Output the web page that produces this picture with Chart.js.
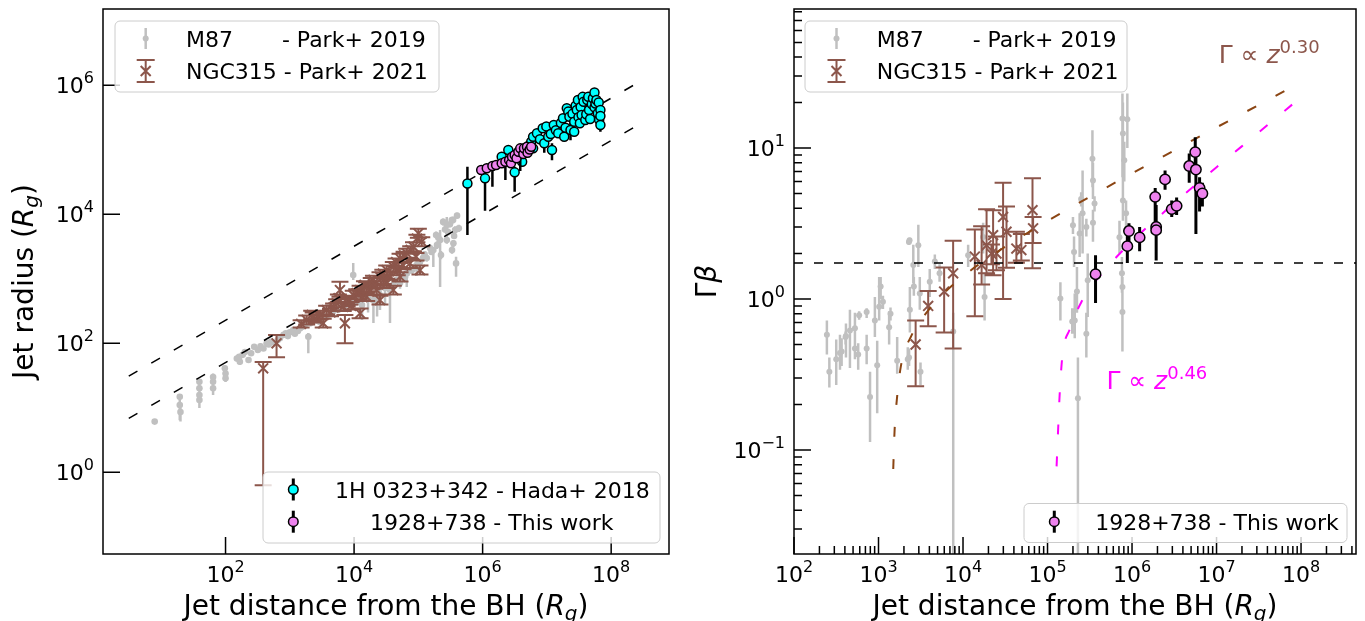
<!DOCTYPE html>
<html>
<head>
<meta charset="utf-8">
<title>Jet radius and Lorentz factor vs distance</title>
<script src="https://cdn.jsdelivr.net/npm/chart.js@4.4.1/dist/chart.umd.min.js"></script>
<style>
  html, body { margin: 0; padding: 0; background: #fff; }
  #wrap { position: relative; width: 1365px; height: 621px; overflow: hidden; }
  #wrap canvas { position: absolute; top: 0; }
</style>
</head>
<body>
<div id="wrap">
  <canvas id="radiusChart" width="680" height="621" style="left:0"></canvas>
  <canvas id="gammaChart" width="675" height="621" style="left:690px"></canvas>
</div>
<script>
/* ---------- data: [x, y, yLow, yHigh] ---------- */

// left panel: jet radius (Rg) vs distance (Rg)
const m87Radius = [
  [7.9, 6.1, 5.6, 6.6], [19.4, 14.8, 11, 16], [19.4, 11, 6.4, 13], [19.9, 8.6, 6.1, 10],
  [39.2, 25.3, 22, 28], [39.2, 20, 17, 23], [39.2, 15.7, 9.9, 18], [39.2, 13.2, 10, 15],
  [64, 30, 27, 34], [64, 25.3, 22, 28], [64, 20, 15.7, 23], [97.5, 40.8, 36, 45],
  [100, 34, 30, 38], [100, 28.6, 25, 32], [150, 58, 52, 64], [163, 61.8, 56, 68], [167, 51.7, 46, 57],
  [185, 66, 60, 72], [200, 73, 66, 80], [228, 55, 50, 61], [250, 70, 64, 77], [279, 88, 80, 96],
  [318, 78.5, 71, 86], [350, 90, 82, 99], [389, 83, 76, 91], [436, 99.6, 91, 109], [470, 96, 88, 105],
  [508, 105, 96, 115], [586, 101, 92, 111], [650, 112, 102, 123], [701, 120, 110, 131], [800, 135, 124, 147],
  [867, 142, 130, 155], [933, 129, 118, 141], [1000, 148, 135, 162], [1130, 160, 146, 175], [1200, 140, 128, 153],
  [1336, 155, 141, 170], [1450, 170, 155, 186], [1580, 180, 164, 197], [1700, 190, 173, 208], [1940, 126, 70, 144],
  [2100, 205, 187, 225], [2310, 229, 209, 251], [2500, 240, 219, 263], [2740, 221, 200, 243], [2940, 213, 190, 238],
  [3300, 250, 228, 274], [3740, 264, 240, 290], [4220, 284, 255, 316], [4600, 300, 270, 333], [5070, 327, 295, 362],
  [5610, 327, 295, 362], [6030, 352, 318, 390], [6600, 370, 333, 411], [7200, 391, 350, 437], [8100, 420, 378, 466],
  [9700, 1140, 955, 1750], [10300, 467, 420, 520], [11000, 430, 387, 477], [12400, 467, 420, 520], [13300, 391, 230, 430],
  [14800, 539, 480, 600], [16500, 520, 300, 580], [17500, 600, 540, 666], [20000, 467, 206, 520], [22800, 467, 260, 520],
  [24000, 640, 576, 710], [25300, 559, 327, 620], [28200, 798, 700, 900], [30300, 718, 400, 800], [33000, 760, 684, 844],
  [36200, 668, 206, 740], [40400, 798, 700, 900], [43000, 900, 810, 1000], [46100, 955, 850, 1070], [51900, 858, 700, 960],
  [57800, 1100, 980, 1230], [62000, 1050, 945, 1166], [66000, 1210, 743, 1350], [74000, 1360, 1200, 1540], [79800, 1365, 1200, 1540],
  [87000, 1500, 1350, 1665], [94000, 1630, 1100, 1900], [106000, 1820, 1600, 2050], [118000, 2094, 1850, 2370], [125000, 2400, 2160, 2664],
  [135000, 2090, 1850, 2370], [152000, 2990, 2650, 3380], [160000, 2600, 2340, 2886], [171000, 2790, 1520, 3100], [189000, 4760, 4200, 5400],
  [195000, 3327, 2900, 3800], [205000, 4300, 3870, 4773], [218000, 3980, 743, 5700], [225000, 2330, 2000, 2700], [243000, 7600, 6700, 8600],
  [260000, 5800, 5220, 6438], [277000, 6800, 3580, 9060], [277000, 3980, 3500, 4500], [290000, 5300, 4700, 6000], [310000, 7000, 6300, 7770],
  [331000, 8100, 7200, 9100], [334000, 2790, 2450, 3200], [347000, 8130, 7200, 9200], [351000, 3540, 3100, 4000], [360000, 4600, 4140, 5106],
  [373000, 5700, 5000, 6500], [386000, 1730, 1070, 2190], [400000, 9500, 8550, 10500], [426000, 6040, 5300, 6900]
];
const ngcRadius = [
  [385, 40.8, 0.63, 51], [622, 99.6, 60.4, 134], [1500, 200, 175, 228], [1830, 229, 195, 270], [2190, 274, 235, 320],
  [2310, 258, 220, 300], [2600, 240, 210, 274], [2940, 274, 235, 320], [3310, 204, 175, 240], [3740, 327, 280, 380],
  [4300, 300, 262, 343], [4800, 360, 315, 412], [5360, 416, 360, 480], [5700, 500, 437, 572], [6030, 668, 526, 898],
  [6790, 368, 315, 430], [7200, 204, 99.6, 274], [7800, 430, 376, 492], [8600, 467, 400, 545], [9000, 380, 332, 434],
  [9700, 559, 480, 650], [11000, 600, 525, 686], [12400, 668, 570, 780], [12400, 291, 245, 345], [13500, 520, 455, 595],
  [14500, 800, 700, 915], [15700, 751, 640, 880], [15700, 526, 450, 615], [17500, 640, 560, 732], [18500, 900, 787, 1030],
  [20000, 955, 820, 1110], [21000, 800, 700, 915], [22500, 668, 570, 780], [25300, 1070, 910, 1260], [25300, 467, 400, 545],
  [28000, 1200, 1050, 1372], [28500, 950, 831, 1086], [32200, 1360, 1160, 1600], [32200, 849, 720, 1000], [36000, 1100, 962, 1258],
  [40800, 1540, 1310, 1810], [40800, 668, 570, 780], [45000, 1800, 1574, 2058], [47000, 1300, 1137, 1487], [51900, 2070, 1760, 2430],
  [51900, 1070, 910, 1260], [58000, 1600, 1400, 1830], [60000, 2300, 2012, 2630], [66000, 2480, 2110, 2920], [74000, 1730, 1470, 2030],
  [76000, 2800, 2450, 3200], [84000, 3130, 2660, 3680], [92000, 2200, 1925, 2516], [95000, 4200, 3674, 4802], [100000, 5060, 4300, 5950],
  [106000, 1360, 1160, 1600], [113000, 3750, 3190, 4410]
];
const hadaRadius = [
  [5.8e5, 3.0e4, 4.76e3, 5.45e4], [1.09e6, 3.6e4, 1.13e4, 4.56e4], [1.98e6, 7.8e4, 6.6e4, 9.2e4], [2.51e6, 9.9e4, 8.5e4, 1.15e5],
  [3.15e6, 4.46e4, 2.23e4, 5.45e4], [4.12e6, 6.5e4, 5.5e4, 7.7e4], [5.2e6, 1.15e5, 1.0e5, 1.32e5], [5.7e6, 1.33e5, 1.15e5, 1.55e5],
  [6.1e6, 1.59e5, 1.37e5, 1.84e5], [6.1e6, 1.05e5, 9.0e4, 1.22e5], [7.0e6, 1.8e5, 1.55e5, 2.08e5], [7.8e6, 1.45e5, 1.26e5, 1.67e5],
  [8.6e6, 2.15e5, 1.85e5, 2.5e5], [9.1e6, 1.26e5, 9.0e4, 1.5e5], [9.8e6, 2.3e5, 2.0e5, 2.65e5], [1.05e7, 1.59e5, 1.37e5, 1.84e5],
  [1.15e7, 1.75e5, 1.52e5, 2.0e5], [1.2e7, 9.9e4, 6.9e4, 1.26e5], [1.28e7, 2.42e5, 2.08e5, 2.8e5], [1.38e7, 2.0e5, 1.74e5, 2.3e5],
  [1.5e7, 1.8e5, 1.55e5, 2.08e5], [1.65e7, 2.6e5, 2.26e5, 3.0e5], [1.78e7, 3.07e5, 2.65e5, 3.55e5], [1.86e7, 1.59e5, 1.37e5, 1.84e5],
  [1.95e7, 2.2e5, 1.9e5, 2.53e5], [2.04e7, 4.39e5, 3.8e5, 5.1e5], [2.15e7, 3.9e5, 3.4e5, 4.5e5], [2.24e7, 3.25e5, 2.8e5, 3.75e5],
  [2.33e7, 2.02e5, 1.4e5, 2.6e5], [2.5e7, 3.6e5, 3.1e5, 4.1e5], [2.66e7, 2.72e5, 2.35e5, 3.15e5], [2.66e7, 1.9e5, 1.64e5, 2.2e5],
  [2.8e7, 4.8e5, 4.2e5, 5.5e5], [2.92e7, 4.13e5, 3.55e5, 4.8e5], [3.04e7, 5.9e5, 5.1e5, 6.8e5], [3.1e7, 3.2e5, 2.8e5, 3.7e5],
  [3.26e7, 2.57e5, 2.2e5, 3.0e5], [3.35e7, 4.6e5, 4.0e5, 5.3e5], [3.47e7, 3.45e5, 2.95e5, 4.0e5], [3.6e7, 6.6e5, 5.7e5, 7.6e5],
  [3.72e7, 5.55e5, 4.8e5, 6.4e5], [3.96e7, 2.89e5, 2.5e5, 3.35e5], [4.1e7, 3.54e5, 3.05e5, 4.1e5], [4.25e7, 5.9e5, 5.1e5, 6.8e5],
  [4.4e7, 6.6e5, 5.7e5, 7.6e5], [4.53e7, 4.13e5, 3.55e5, 4.8e5], [4.7e7, 3.0e5, 2.6e5, 3.45e5], [4.99e7, 5.1e5, 4.4e5, 5.9e5],
  [5.2e7, 6.3e5, 5.5e5, 7.2e5], [5.5e7, 7.7e5, 6.6e5, 8.9e5], [5.5e7, 4.54e5, 3.9e5, 5.25e5], [5.7e7, 5.2e5, 4.5e5, 6.0e5],
  [5.9e7, 5.9e5, 5.1e5, 6.8e5], [6.2e7, 3.67e5, 2.9e5, 4.3e5], [6.4e7, 5.4e5, 4.7e5, 6.2e5], [6.5e7, 2.9e5, 2.5e5, 3.35e5],
  [6.8e7, 4.13e5, 3.55e5, 4.8e5], [6.8e7, 3.33e5, 2.85e5, 3.85e5], [6.8e7, 2.42e5, 1.9e5, 2.8e5]
];
const thisRadius = [
  [9.5e5, 4.85e4, 4.3e4, 5.5e4], [1.16e6, 5.15e4, 4.5e4, 5.9e4], [1.42e6, 5.59e4, 2.67e4, 6.3e4], [1.62e6, 5.8e4, 5.1e4, 6.6e4],
  [1.98e6, 6.15e4, 5.4e4, 7.0e4], [2.26e6, 6.5e4, 3.4e4, 7.4e4], [2.58e6, 6.9e4, 6.0e4, 7.9e4], [2.76e6, 6.15e4, 5.4e4, 7.0e4],
  [2.87e6, 7.8e4, 6.8e4, 8.9e4], [3.15e6, 8.3e4, 7.3e4, 9.4e4], [3.37e6, 7.4e4, 6.5e4, 8.4e4], [3.6e6, 9.3e4, 8.2e4, 1.06e5],
  [3.85e6, 1.05e5, 4.7e4, 1.19e5], [4.3e6, 8.6e4, 7.6e4, 9.8e4], [4.4e6, 1.05e5, 9.2e4, 1.19e5], [4.9e6, 1.11e5, 9.8e4, 1.26e5],
  [5.0e6, 9.0e4, 7.9e4, 1.02e5], [5.4e6, 1.01e5, 8.9e4, 1.15e5], [5.7e6, 1.11e5, 9.8e4, 1.26e5]
];
// the two dashed guide lines (end points)
const guideUpper = [[3.12, 31], [2.93e8, 1.17e6]];
const guideLower = [[3.12, 6.85], [2.93e8, 2.57e5]];

// right panel: Gamma*beta vs distance (Rg)
const m87Gamma = [
  [245, 0.58, 0.43, 0.72], [262, 0.33, 0.26, 0.41], [316, 0.40, 0.27, 0.54], [350, 0.44, 0.34, 0.58],
  [366, 0.45, 0.36, 0.55], [407, 0.56, 0.50, 0.61], [412, 0.57, 0.41, 0.69], [459, 0.62, 0.35, 0.85],
  [526, 0.64, 0.48, 0.81], [526, 0.47, 0.40, 0.55], [575, 0.43, 0.34, 0.51], [590, 0.78, 0.73, 0.83],
  [724, 0.82, 0.75, 0.87], [724, 0.47, 0.37, 0.58], [794, 0.225, 0.113, 0.33], [906, 0.72, 0.56, 1.03],
  [965, 0.365, 0.175, 0.53], [1018, 0.89, 0.72, 1.40], [1060, 1.21, 1.0, 1.40], [1128, 0.96, 0.86, 1.05],
  [1336, 0.65, 0.50, 0.83], [1387, 0.80, 0.72, 0.88], [1663, 0.39, 0.32, 0.56], [2220, 0.40, 0.34, 0.48],
  [2290, 2.39, 2.29, 2.48], [2330, 2.45, 2.35, 2.55], [2350, 0.85, 0.6, 1.2], [2300, 0.41, 0.36, 0.47],
  [2580, 1.68, 1.27, 2.29], [2620, 1.21, 1.05, 1.4], [2960, 2.27, 1.63, 3.1], [3080, 1.09, 0.85, 1.40],
  [3140, 0.33, 0.27, 0.38], [4040, 1.30, 1.03, 1.58], [4640, 1.77, 1.58, 1.97], [5280, 1.48, 1.3, 1.7],
  [7660, 0.61, 0.01, 0.81], [11500, 1.95, 1.63, 2.29], [17300, 2.58, 2.0, 3.2], [18000, 1.03, 0.72, 1.5],
  [1.42e5, 1.01, 0.72, 1.29], [1.96e5, 0.71, 0.59, 0.87], [2.0e5, 3.08, 2.7, 3.5], [2.06e5, 2.05, 1.63, 2.6],
  [2.1e5, 0.72, 0.55, 1.09], [2.23e5, 1.12, 0.81, 1.63], [2.29e5, 0.22, 0.01, 0.41], [2.4e5, 2.72, 1.9, 3.7],
  [2.5e5, 4.6, 4.1, 5.1], [2.6e5, 3.7, 2.0, 7.1], [2.88e5, 0.59, 0.41, 0.81], [2.88e5, 3.0, 2.6, 3.4],
  [2.99e5, 1.33, 0.76, 2.0], [3.4e5, 8.5, 5.5, 13.1], [3.45e5, 6.1, 4.6, 8.0], [3.45e5, 3.2, 2.4, 3.9],
  [3.6e5, 4.3, 3.8, 4.8], [7.1e5, 2.57, 2.0, 3.3], [7.6e5, 1.48, 1.1, 1.9], [7.7e5, 15.7, 6.4, 23],
  [7.7e5, 1.2, 1.0, 1.4], [7.7e5, 0.82, 0.45, 1.1], [7.8e5, 12.5, 7, 20], [7.8e5, 4.5, 3.3, 6.4],
  [8.1e5, 8.3, 6, 11], [8.5e5, 3.7, 3.0, 4.5], [8.8e5, 15.5, 10, 23]
];
const ngcGamma = [
  [2750, 0.50, 0.265, 0.72], [3870, 0.90, 0.66, 1.13], [5980, 1.12, 0.60, 1.62], [7640, 1.48, 0.47, 2.43],
  [13800, 1.91, 0.77, 2.89], [16600, 1.68, 1.25, 3.04], [19000, 2.27, 1.48, 3.93], [21700, 2.0, 1.7, 2.3],
  [22700, 2.65, 1.44, 3.88], [24900, 2.0, 1.55, 2.6], [29800, 3.5, 1.0, 5.9], [32700, 2.79, 1.61, 4.1],
  [42800, 2.16, 1.74, 2.79], [49000, 2.11, 1.8, 2.7], [66400, 3.88, 1.6, 6.3], [67500, 2.94, 2.35, 3.5]
];
const thisGamma = [
  [3.7e5, 1.46, 0.94, 1.95], [8.8e5, 2.24, 1.73, 2.73], [9.2e5, 2.82, 2.21, 3.18], [1.23e6, 2.56, 2.07, 3.0],
  [1.88e6, 4.75, 3.0, 5.43], [1.93e6, 3.0, 1.81, 4.2], [1.93e6, 2.86, 1.8, 3.2], [2.46e6, 6.2, 5.3, 7.1],
  [2.95e6, 3.94, 3.5, 4.5], [3.37e6, 4.14, 3.6, 4.7], [4.75e6, 7.6, 5.9, 9.2], [5.6e6, 9.4, 7.5, 11.8],
  [5.7e6, 7.2, 2.7, 8.7], [6.3e6, 5.45, 3.8, 6.4], [6.8e6, 5.0, 4.1, 5.9]
];
// model curves
const curve030X = [1494, 1550, 1660, 1840, 2460, 3500, 6000, 1.2e4, 3e4, 1e5, 3e5, 1e6, 3e6, 1e7, 3e7, 1e8];
const curve030Y = [0.075, 0.135, 0.225, 0.36, 0.575, 0.78, 1.1, 1.53, 2.18, 3.29, 4.68, 6.8, 9.5, 13.7, 19.0, 27.3];
const curve046X = [1.28e5, 1.33e5, 1.39e5, 1.5e5, 1.83e5, 2.5e5, 4.5e5, 1e6, 3e6, 1e7, 3e7, 1e8];
const curve046Y = [0.078, 0.13, 0.23, 0.42, 0.63, 0.95, 1.5, 2.41, 4.21, 7.46, 12.4, 21.7];
const gammaBetaLevel = 1.73;

// axes
const radXTicks = [1e2, 1e4, 1e6, 1e8];
const radYTicks = [1e0, 1e2, 1e4, 1e6];
const gamXTicks = [1e2, 1e3, 1e4, 1e5, 1e6, 1e7, 1e8];
const gamYTicks = [1e-1, 1e0, 1e1];
const radXRange = [1.24, 7.94e8], radYRange = [0.054, 1.52e7];
const gamXRange = [100, 4.47e8], gamYRange = [0.0205, 83.3];

/* ---------- styling ---------- */
const FONT = "'DejaVu Sans', sans-serif";
const GREY = '#c0c0c0', BROWN = '#8c564b', CYAN = '#00ffff', VIOLET = '#ee82ee';
const SADDLE = '#8b4513', MAGENTA = '#ff00ff';

const pts = rows => rows.map(r => ({ x: r[0], y: r[1], lo: r[2], hi: r[3] }));
const xy = (xs, ys) => xs.map((x, i) => ({ x, y: ys[i] }));
const pairs = rows => rows.map(r => ({ x: r[0], y: r[1] }));

// error bars drawn just before each dataset's markers (like matplotlib errorbar)
const errBars = {
  id: 'errBars',
  beforeDatasetDraw(chart, args) {
    const ds = chart.data.datasets[args.index];
    const e = ds.err;
    if (!e) return;
    const ctx = chart.ctx, a = chart.chartArea, xs = chart.scales.x, ys = chart.scales.y;
    ctx.save();
    ctx.beginPath();
    ctx.rect(a.left, a.top, a.right - a.left, a.bottom - a.top);
    ctx.clip();
    ctx.strokeStyle = e.color;
    ctx.lineWidth = e.width;
    ctx.beginPath();
    ds.data.forEach(p => {
      const px = xs.getPixelForValue(p.x);
      const t = ys.getPixelForValue(p.hi), b = ys.getPixelForValue(p.lo);
      ctx.moveTo(px, t); ctx.lineTo(px, b);
      if (e.cap) {
        ctx.moveTo(px - e.cap, t); ctx.lineTo(px + e.cap, t);
        ctx.moveTo(px - e.cap, b); ctx.lineTo(px + e.cap, b);
      }
    });
    ctx.stroke();
    ctx.restore();
  }
};

// text pieces: [text, font, dy]
function rich(ctx, parts, x, y, align) {
  let w = 0;
  parts.forEach(p => { ctx.font = p[1]; w += ctx.measureText(p[0]).width; });
  let cx = align === 'center' ? x - w / 2 : (align === 'right' ? x - w : x);
  ctx.textAlign = 'left';
  ctx.textBaseline = 'alphabetic';
  parts.forEach(p => {
    ctx.font = p[1];
    ctx.fillText(p[0], cx, y + (p[2] || 0));
    cx += ctx.measureText(p[0]).width;
  });
}

function expLabel(ctx, v, x, y, align) {
  const e = Math.round(Math.log10(v));
  const sup = e < 0 ? '\u2212' + (-e) : String(e);
  rich(ctx, [['10', '22px ' + FONT], [sup, '16px ' + FONT, -10]], x, y, align);
}

function minorPixels(s) {
  const out = [];
  const e0 = Math.floor(Math.log10(s.min)), e1 = Math.ceil(Math.log10(s.max));
  for (let e = e0; e <= e1; e++) {
    for (let k = 2; k <= 9; k++) {
      const v = k * Math.pow(10, e);
      if (v > s.min && v < s.max) out.push(s.getPixelForValue(v));
    }
  }
  return out;
}

function drawHandle(ctx, kind, x, cy) {
  ctx.save();
  if (kind === 'grey') {
    ctx.strokeStyle = GREY; ctx.lineWidth = 2.5;
    ctx.beginPath(); ctx.moveTo(x, cy - 10.5); ctx.lineTo(x, cy + 10.5); ctx.stroke();
    ctx.fillStyle = GREY;
    ctx.beginPath(); ctx.arc(x, cy, 3, 0, Math.PI * 2); ctx.fill();
  } else if (kind === 'brown') {
    ctx.strokeStyle = BROWN; ctx.lineWidth = 2;
    ctx.beginPath();
    ctx.moveTo(x, cy - 11); ctx.lineTo(x, cy + 11);
    ctx.moveTo(x - 9, cy - 11); ctx.lineTo(x + 9, cy - 11);
    ctx.moveTo(x - 9, cy + 11); ctx.lineTo(x + 9, cy + 11);
    const d = 5;
    ctx.moveTo(x - d, cy - d); ctx.lineTo(x + d, cy + d);
    ctx.moveTo(x - d, cy + d); ctx.lineTo(x + d, cy - d);
    ctx.stroke();
  } else {
    ctx.strokeStyle = '#000'; ctx.lineWidth = 3;
    ctx.beginPath(); ctx.moveTo(x, cy - 11); ctx.lineTo(x, cy + 11); ctx.stroke();
    ctx.fillStyle = kind === 'cyan' ? CYAN : VIOLET;
    ctx.lineWidth = 1.5;
    ctx.beginPath(); ctx.arc(x, cy, 4.8, 0, Math.PI * 2); ctx.fill(); ctx.stroke();
  }
  ctx.restore();
}

function drawLegend(ctx, L) {
  ctx.save();
  ctx.beginPath();
  ctx.roundRect(L.x, L.y, L.w, L.h, 5);
  ctx.fillStyle = 'rgba(255,255,255,0.8)';
  ctx.fill();
  ctx.strokeStyle = '#cccccc';
  ctx.lineWidth = 1;
  ctx.stroke();
  L.rows.forEach(r => {
    drawHandle(ctx, r.kind, L.hx, r.cy);
    ctx.fillStyle = '#000';
    ctx.font = '22px ' + FONT;
    ctx.textAlign = 'left';
    ctx.textBaseline = 'alphabetic';
    ctx.fillText(r.text, L.tx, r.cy + 8.3);
  });
  ctx.restore();
}

function makeDecor(cfg) {
  return {
    id: 'decor',
    afterDraw(chart) {
      const ctx = chart.ctx, a = chart.chartArea;
      const xs = chart.scales.x, ys = chart.scales.y;
      ctx.save();
      // inward ticks
      ctx.strokeStyle = '#000';
      ctx.lineWidth = 1.5;
      ctx.beginPath();
      xs.ticks.forEach(t => { const p = xs.getPixelForValue(t.value); ctx.moveTo(p, a.bottom); ctx.lineTo(p, a.bottom - 17); });
      ys.ticks.forEach(t => { const p = ys.getPixelForValue(t.value); ctx.moveTo(a.left, p); ctx.lineTo(a.left + 17, p); });
      if (cfg.minor) {
        minorPixels(xs).forEach(p => { ctx.moveTo(p, a.bottom); ctx.lineTo(p, a.bottom - 8); });
        minorPixels(ys).forEach(p => { ctx.moveTo(a.left, p); ctx.lineTo(a.left + 8, p); });
      }
      ctx.stroke();
      ctx.strokeRect(a.left, a.top, a.right - a.left, a.bottom - a.top);

      // tick labels
      ctx.fillStyle = '#000';
      xs.ticks.forEach(t => expLabel(ctx, t.value, xs.getPixelForValue(t.value), 582, 'center'));
      ys.ticks.forEach(t => expLabel(ctx, t.value, a.left - 9, ys.getPixelForValue(t.value) + 8, 'right'));

      // axis titles
      const cx = (a.left + a.right) / 2, cy = (a.top + a.bottom) / 2;
      rich(ctx, [['Jet distance from the BH (', '28px ' + FONT], ['R', 'italic 28px ' + FONT],
                 ['g', 'italic 20px ' + FONT, 5], [')', '28px ' + FONT]], cx, 615, 'center');
      ctx.save();
      ctx.translate(cfg.yTitleX, cy);
      ctx.rotate(-Math.PI / 2);
      rich(ctx, cfg.yTitle, 0, 0, 'center');
      ctx.restore();

      // legends and notes
      cfg.legends.forEach(L => drawLegend(ctx, L));
      (cfg.notes || []).forEach(n => {
        ctx.fillStyle = n.color;
        rich(ctx, [['\u0393 \u221D ', '25px ' + FONT], ['z', 'italic 25px ' + FONT], [n.exp, '18px ' + FONT, -10]], n.x, n.y, 'left');
      });
      ctx.restore();
    }
  };
}

function logAxis(range, ticks, size, isX) {
  return {
    type: 'logarithmic',
    bounds: 'data',
    min: range[0], max: range[1],
    grid: { display: false },
    border: { display: false },
    ticks: { display: false },
    afterBuildTicks: s => { s.ticks = ticks.map(v => ({ value: v })); },
    afterFit: s => { if (isX) s.height = size; else s.width = size; }
  };
}

const baseOptions = (padRight, xAxis, yAxis) => ({
  responsive: false,
  animation: false,
  devicePixelRatio: 1,
  events: [],
  layout: { padding: { top: 9, right: padRight, left: 0, bottom: 0 } },
  plugins: { legend: { display: false }, tooltip: { enabled: false } },
  scales: { x: xAxis, y: yAxis }
});

/* ---------- left: jet radius ---------- */
new Chart(document.getElementById('radiusChart'), {
  type: 'scatter',
  data: {
    datasets: [
      { label: 'M87', data: pts(m87Radius), pointRadius: 3.3, backgroundColor: GREY, borderWidth: 0,
        err: { color: GREY, width: 2.5 }, order: 7 },
      { label: 'NGC315', data: pts(ngcRadius), pointStyle: 'crossRot', pointRadius: 7, borderColor: BROWN,
        backgroundColor: BROWN, borderWidth: 2, err: { color: BROWN, width: 2, cap: 8.5 }, order: 6 },
      { label: 'upper', data: pairs(guideUpper), showLine: true, pointRadius: 0, borderColor: '#000',
        borderWidth: 1.5, borderDash: [10, 16], order: 5 },
      { label: 'lower', data: pairs(guideLower), showLine: true, pointRadius: 0, borderColor: '#000',
        borderWidth: 1.5, borderDash: [10, 16], order: 5 },
      { label: '1H 0323+342', data: pts(hadaRadius), pointRadius: 4.5, backgroundColor: CYAN, borderColor: '#000',
        borderWidth: 1.5, err: { color: '#000', width: 2.5 }, order: 4 },
      { label: '1928+738', data: pts(thisRadius), pointRadius: 4.5, backgroundColor: VIOLET, borderColor: '#000',
        borderWidth: 1.5, err: { color: '#000', width: 2.5 }, order: 3 }
    ]
  },
  options: baseOptions(11, logAxis(radXRange, radXTicks, 67, true), logAxis(radYRange, radYTicks, 103, false)),
  plugins: [errBars, makeDecor({
    minor: false,
    yTitleX: 33,
    yTitle: [['Jet radius (', '28px ' + FONT], ['R', 'italic 28px ' + FONT], ['g', 'italic 20px ' + FONT, 5], [')', '28px ' + FONT]],
    legends: [
      { x: 115, y: 21, w: 324, h: 71, hx: 145.7, tx: 186,
        rows: [{ kind: 'grey', cy: 38.5, text: 'M87       - Park+ 2019' }, { kind: 'brown', cy: 71, text: 'NGC315 - Park+ 2021' }] },
      { x: 263, y: 472, w: 397, h: 71, hx: 293.3, tx: 335,
        rows: [{ kind: 'cyan', cy: 489.5, text: '1H 0323+342 - Hada+ 2018' }, { kind: 'violet', cy: 521.7, text: '     1928+738 - This work' }] }
    ]
  })]
});

/* ---------- right: Gamma beta ---------- */
new Chart(document.getElementById('gammaChart'), {
  type: 'scatter',
  data: {
    datasets: [
      { label: 'M87', data: pts(m87Gamma), pointRadius: 3, backgroundColor: GREY, borderWidth: 0,
        err: { color: GREY, width: 2.5 }, order: 7 },
      { label: 'NGC315', data: pts(ngcGamma), pointStyle: 'crossRot', pointRadius: 7, borderColor: BROWN,
        backgroundColor: BROWN, borderWidth: 2, err: { color: BROWN, width: 2, cap: 8.5 }, order: 6 },
      { label: 'level', data: [{ x: gamXRange[0], y: gammaBetaLevel }, { x: gamXRange[1], y: gammaBetaLevel }],
        showLine: true, pointRadius: 0, borderColor: '#000', borderWidth: 1.5, borderDash: [9, 11], order: 5 },
      { label: 'z^0.30', data: xy(curve030X, curve030Y), showLine: true, pointRadius: 0, borderColor: SADDLE,
        borderWidth: 2, borderDash: [10, 22], cubicInterpolationMode: 'monotone', order: 5 },
      { label: 'z^0.46', data: xy(curve046X, curve046Y), showLine: true, pointRadius: 0, borderColor: MAGENTA,
        borderWidth: 2, borderDash: [10, 22], cubicInterpolationMode: 'monotone', order: 5 },
      { label: '1928+738', data: pts(thisGamma), pointRadius: 5.2, backgroundColor: VIOLET, borderColor: '#000',
        borderWidth: 1.5, err: { color: '#000', width: 3 }, order: 3 }
    ]
  },
  options: baseOptions(9, logAxis(gamXRange, gamXTicks, 67, true), logAxis(gamYRange, gamYTicks, 104, false)),
  plugins: [errBars, makeDecor({
    minor: true,
    yTitleX: 26,
    yTitle: [['\u0393', '28px ' + FONT], ['\u03B2', 'italic 28px ' + FONT]],
    legends: [
      { x: 115, y: 21, w: 322, h: 71, hx: 146.5, tx: 186.7,
        rows: [{ kind: 'grey', cy: 38.5, text: 'M87       - Park+ 2019' }, { kind: 'brown', cy: 71, text: 'NGC315 - Park+ 2021' }] },
      { x: 334, y: 503.5, w: 323, h: 39, hx: 364.3, tx: 405.2,
        rows: [{ kind: 'violet', cy: 521.7, text: '1928+738 - This work' }] }
    ],
    notes: [
      { color: BROWN, x: 528.7, y: 62.7, exp: '0.30' },
      { color: MAGENTA, x: 416.4, y: 389.3, exp: '0.46' }
    ]
  })]
});
</script>
</body>
</html>
